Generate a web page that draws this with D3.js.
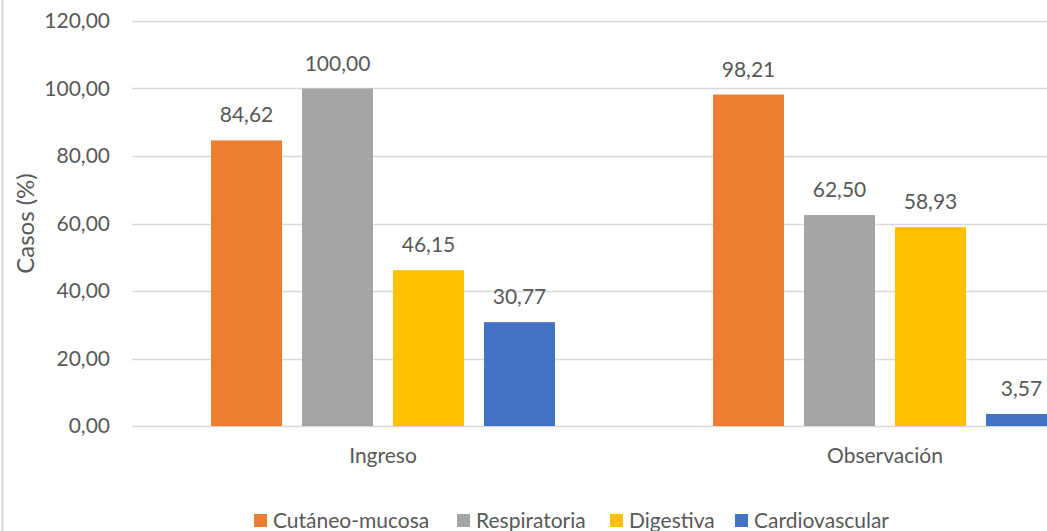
<!DOCTYPE html>
<html>
<head>
<meta charset="utf-8">
<script src="https://cdn.jsdelivr.net/npm/d3@7/dist/d3.min.js"></script>
<style>
  html, body { margin: 0; padding: 0; background: #fff; }
  svg { display: block; }
  text { font-family: Lato, "Open Sans", sans-serif; fill: #595959; }
</style>
</head>
<body>
<svg id="chart" width="1047" height="531"></svg>
<script>
// Chart data
const categories = ["Ingreso", "Observación"];
const seriesNames = ["Cutáneo-mucosa", "Respiratoria", "Digestiva", "Cardiovascular"];
const seriesColors = ["#ED7D31", "#A5A5A5", "#FFC000", "#4472C4"];
const ingresoValues = [84.62, 100.00, 46.15, 30.77];
const observacionValues = [98.21, 62.50, 58.93, 3.57];
const yTicks = [0, 20, 40, 60, 80, 100, 120];
const yTitle = "Casos (%)";

const valuesByCategory = [ingresoValues, observacionValues];

const svg = d3.select("#chart");
const W = 1047, H = 531;
const FONT = "Lato, 'Open Sans', sans-serif";
const LABEL_SIZE = "21px";

// Plot area (extends past the right edge of the canvas)
const plot = { left: 132, right: 1136, top: 21, bottom: 426 };

const fmt = v => v.toFixed(2).replace(".", ",");

const y = d3.scaleLinear().domain([0, 120]).range([plot.bottom, plot.top]);
const x0 = d3.scaleBand().domain(categories).range([plot.left, plot.right]).paddingInner(0).paddingOuter(0);

// Bars inside each category band: 4 bars with gaps between them
const groupWidth = 344;
const x1 = d3.scaleBand().domain(seriesNames)
  .range([0, groupWidth]).paddingInner(20 / 91).paddingOuter(0);

// Outer chart border on the left
svg.append("line")
  .attr("x1", 2.5).attr("x2", 2.5).attr("y1", 0).attr("y2", H)
  .attr("stroke", "#D9D9D9").attr("stroke-width", 2);

// Gridlines
svg.append("g")
  .selectAll("line")
  .data(yTicks)
  .join("line")
  .attr("x1", plot.left).attr("x2", W)
  .attr("y1", d => Math.round(y(d)) + 0.5).attr("y2", d => Math.round(y(d)) + 0.5)
  .attr("stroke", "#D9D9D9").attr("stroke-width", 1.3);

// Y axis labels
const yAxis = d3.axisLeft(y).tickValues(yTicks).tickFormat(fmt).tickSize(0).tickPadding(0);
const yG = svg.append("g").attr("transform", "translate(110,0)").call(yAxis);
yG.select(".domain").remove();
yG.selectAll("text")
  .style("font-family", FONT)
  .style("font-size", LABEL_SIZE)
  .attr("fill", "#595959");

// Y axis title
svg.append("text")
  .attr("transform", `translate(34,${(plot.top + plot.bottom) / 2}) rotate(-90)`)
  .attr("text-anchor", "middle")
  .style("font-size", "24px")
  .text(yTitle);

// Bars
const groups = svg.append("g")
  .selectAll("g")
  .data(categories)
  .join("g")
  .attr("transform", d => `translate(${x0(d) + (x0.bandwidth() - groupWidth) / 2},0)`);

groups.selectAll("rect")
  .data((d, i) => valuesByCategory[i].map((v, j) => ({ name: seriesNames[j], value: v, color: seriesColors[j] })))
  .join("rect")
  .attr("x", d => x1(d.name))
  .attr("width", x1.bandwidth())
  .attr("y", d => y(d.value))
  .attr("height", d => y(0) - y(d.value))
  .attr("fill", d => d.color);

// Value labels above bars
groups.selectAll("text.val")
  .data((d, i) => valuesByCategory[i].map((v, j) => ({ name: seriesNames[j], value: v })))
  .join("text")
  .attr("class", "val")
  .attr("x", d => x1(d.name) + x1.bandwidth() / 2)
  .attr("y", d => y(d.value) - 18)
  .attr("text-anchor", "middle")
  .style("font-size", LABEL_SIZE)
  .text(d => fmt(d.value));

// Category labels
const xAxis = d3.axisBottom(x0).tickSize(0).tickPadding(0);
const xG = svg.append("g").attr("transform", `translate(0,${plot.bottom + 37})`).call(xAxis);
xG.select(".domain").remove();
xG.selectAll("text")
  .attr("dy", 0)
  .style("font-family", FONT)
  .style("font-size", LABEL_SIZE)
  .attr("fill", "#595959");

// Legend
const legendX = [254, 457, 610, 735];
const legend = svg.append("g")
  .selectAll("g")
  .data(seriesNames)
  .join("g")
  .attr("transform", (d, i) => `translate(${legendX[i]},0)`);
legend.append("rect")
  .attr("x", 0).attr("y", 514).attr("width", 13).attr("height", 13)
  .attr("fill", (d, i) => seriesColors[i]);
legend.append("text")
  .attr("x", 19).attr("y", 528)
  .style("font-size", LABEL_SIZE)
  .text(d => d);
</script>
</body>
</html>
